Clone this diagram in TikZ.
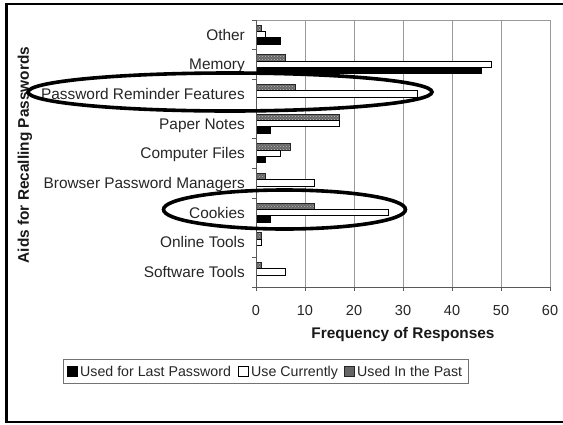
\documentclass[tikz,border=0pt]{standalone}
\usepackage{fontspec}
\setmainfont{Liberation Sans}
\usetikzlibrary{patterns}
\begin{document}
\begin{tikzpicture}[x=1pt,y=-1pt,
  catlabel/.style={anchor=base east,inner sep=0pt,text=black!85,font=\fontsize{15.4}{17}\selectfont},
  ticklabel/.style={anchor=base,inner sep=0pt,text=black!85,font=\fontsize{14.5}{16}\selectfont},
  axtitle/.style={anchor=center,inner sep=0pt,text=black!90,font=\bfseries\fontsize{15.4}{17}\selectfont},
  legtext/.style={anchor=base west,inner sep=0pt,text=black!85,font=\fontsize{14.2}{16}\selectfont},
  gridline/.style={draw=black!40,line width=0.9pt},
  axisline/.style={draw=black!65,line width=1pt},
  barlast/.style={fill=black,draw=black,line width=0.7pt},
  barcur/.style={fill=white,draw=black,line width=0.7pt},
  barpast/.style={preaction={fill=black!60},pattern=crosshatch dots,pattern color=black!25,draw=black!85,line width=0.7pt},
  swatch/.style={minimum width=10pt,minimum height=9.5pt,inner sep=0pt,line width=0.8pt},
  highlight/.style={draw=black,line width=3.6pt},
]
\useasboundingbox (0,0) rectangle (563,424);
\fill[white] (0,0) rectangle (563,424);
% outer frame (right side runs off the page)
\begin{scope}
  \clip (0,0) rectangle (563,424);
  \draw[line width=2.6pt] (6.5,4) rectangle (575,422);
\end{scope}

% plot area and vertical grid
\draw[gridline] (256,20) rectangle (550,287);
\foreach \k in {1,...,5} \draw[gridline] ({256+49*\k},20) -- ({256+49*\k},287);

% bars: label / used in the past / use currently / used for last password
\foreach \lab/\pa/\cu/\la [count=\i from 0] in {
  Other/1/2/5,
  Memory/6/48/46,
  Password Reminder Features/8/33/0,
  Paper Notes/17/17/3,
  Computer Files/7/5/2,
  Browser Password Managers/2/12/0,
  Cookies/12/27/3,
  Online Tools/1/1/0,
  Software Tools/1/6/0}{
  \pgfmathsetmacro\cy{20+(\i+0.5)*29.67}
  \node[catlabel] (cat\i) at (245,\cy+5.4) {\lab};
  \ifnum\pa>0 \draw[barpast] (256,\cy-9.8) rectangle ({256+4.9*\pa},\cy-3.5); \fi
  \ifnum\cu>0 \draw[barcur] (256,\cy-3.5) rectangle ({256+4.9*\cu},\cy+2.9); \fi
  \ifnum\la>0 \draw[barlast] (256,\cy+2.9) rectangle ({256+4.9*\la},\cy+9.2); \fi
}

% axes with ticks
\draw[axisline] (256,20) -- (256,287) -- (550,287);
\foreach \k in {0,...,9} \draw[axisline] (252,{20+29.67*\k}) -- (256,{20+29.67*\k});
\foreach \k [evaluate=\k as \v using int(10*\k)] in {0,...,6}{
  \draw[axisline] ({256+49*\k},287) -- ({256+49*\k},291);
  \node[ticklabel] (tick\k) at ({256+49*\k},315) {\v};
}

% axis titles
\node[axtitle] (xtitle) at (403,335) {Frequency of Responses};
\node[axtitle,rotate=90] (ytitle) at (25,155) {Aids for Recalling Passwords};

% legend
\draw[draw=black!55,line width=0.8pt] (63,359) rectangle (468,383);
\node[swatch,fill=black,draw=black] (sw1) at (72,371.5) {};
\node[legtext] (lg1) at (80,376.5) {Used for Last Password};
\node[swatch,fill=white,draw=black] (sw2) at (243.5,371.5) {};
\node[legtext] (lg2) at (251,376.5) {Use Currently};
\node[swatch,fill=black!60,draw=black!85] (sw3) at (349.5,371.5) {};
\node[legtext] (lg3) at (357,376.5) {Used In the Past};

% highlighted categories
\draw[highlight] (230,92) ellipse [x radius=202,y radius=19];
\draw[highlight] (284.5,209.5) ellipse [x radius=121,y radius=19.5];
\end{tikzpicture}
\end{document}
